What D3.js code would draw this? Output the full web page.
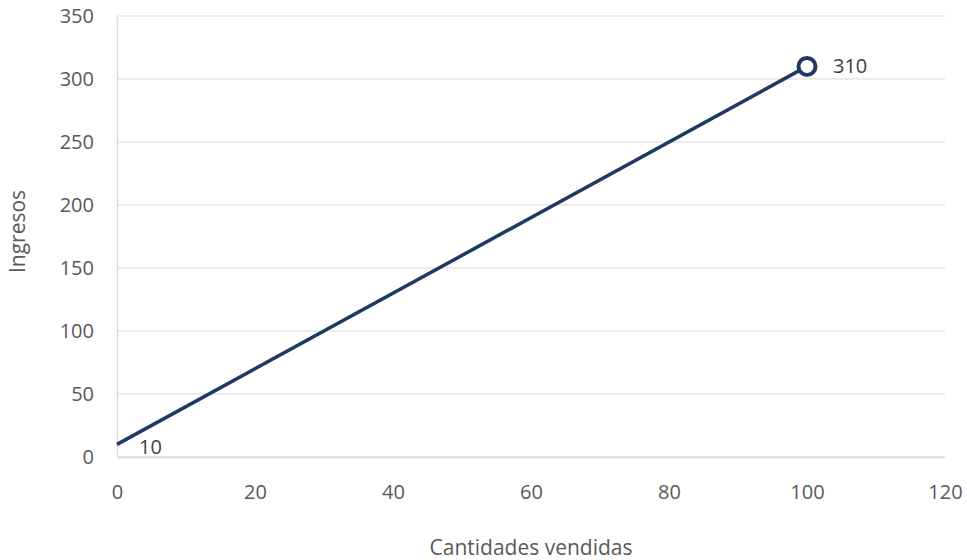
<!DOCTYPE html>
<html lang="es">
  <head>
    <meta charset="UTF-8" />
    <title>Ingresos</title>
    <script src="https://cdn.jsdelivr.net/npm/d3@7/dist/d3.min.js"></script>
    <style>
      body { margin: 0; background: #fff; }
      text { font-family: "Open Sans", "Liberation Sans", sans-serif; fill: #595959; }
    </style>
  </head>
  <body>
    <div id="wrapper"></div>
    <script>
      const cantidades = [0, 100];
      const ingresos = [10, 310];
      const xTicks = [0, 20, 40, 60, 80, 100, 120];
      const yTicks = [0, 50, 100, 150, 200, 250, 300, 350];

      const dimensions = {
        width: 967,
        height: 560,
        margin: { top: 16, right: 22, bottom: 103, left: 117 },
      };
      dimensions.boundedWidth = dimensions.width - dimensions.margin.left - dimensions.margin.right;
      dimensions.boundedHeight = dimensions.height - dimensions.margin.top - dimensions.margin.bottom;

      const data = cantidades.map((c, i) => ({ x: c, y: ingresos[i] }));

      const svg = d3.select("#wrapper").append("svg")
        .attr("width", dimensions.width)
        .attr("height", dimensions.height);

      const bounds = svg.append("g")
        .attr("transform", `translate(${dimensions.margin.left},${dimensions.margin.top})`);

      const xScale = d3.scaleLinear().domain([0, 120]).range([0, dimensions.boundedWidth]);
      const yScale = d3.scaleLinear().domain([0, 350]).range([dimensions.boundedHeight, 0]);

      // gridlines
      bounds.append("g").selectAll("line").data(yTicks).join("line")
        .attr("x1", 0).attr("x2", dimensions.boundedWidth)
        .attr("y1", d => yScale(d)).attr("y2", d => yScale(d))
        .attr("stroke", "#d9d9d9").attr("stroke-width", 1);

      // axes
      const yAxis = bounds.append("g")
        .call(d3.axisLeft(yScale).tickValues(yTicks).tickSize(0).tickPadding(23));
      yAxis.select(".domain").attr("stroke", "#d9d9d9").attr("stroke-width", 1.5);
      yAxis.selectAll("text").style("font-size", "20px");

      const xAxis = bounds.append("g")
        .attr("transform", `translate(0,${dimensions.boundedHeight})`)
        .call(d3.axisBottom(xScale).tickValues(xTicks).tickSize(0).tickPadding(28));
      xAxis.select(".domain").attr("stroke", "#d9d9d9").attr("stroke-width", 1.5);
      xAxis.selectAll("text").style("font-size", "20px");

      // line
      const lineGenerator = d3.line().x(d => xScale(d.x)).y(d => yScale(d.y));
      bounds.append("path")
        .attr("d", lineGenerator(data))
        .attr("fill", "none")
        .attr("stroke", "#1f3864")
        .attr("stroke-width", 3.5);

      const last = data[data.length - 1];
      const first = data[0];
      bounds.append("circle")
        .attr("cx", xScale(last.x)).attr("cy", yScale(last.y))
        .attr("r", 8.5)
        .attr("fill", "#fff")
        .attr("stroke", "#1f3864")
        .attr("stroke-width", 4);

      bounds.append("text")
        .attr("x", xScale(last.x) + 26).attr("y", yScale(last.y))
        .attr("dy", "0.35em")
        .style("font-size", "20px")
        .style("fill", "#404040")
        .text(last.y);

      bounds.append("text")
        .attr("x", xScale(first.x) + 22).attr("y", yScale(first.y))
        .attr("dy", "0.5em")
        .style("font-size", "20px")
        .style("fill", "#404040")
        .text(first.y);

      // axis titles
      svg.append("text")
        .attr("transform", `translate(25,${dimensions.margin.top + dimensions.boundedHeight / 2 - 5}) rotate(-90)`)
        .attr("text-anchor", "middle")
        .style("font-size", "21px")
        .text("Ingresos");

      svg.append("text")
        .attr("x", dimensions.margin.left + dimensions.boundedWidth / 2)
        .attr("y", 555)
        .attr("text-anchor", "middle")
        .style("font-size", "21px")
        .text("Cantidades vendidas");
    </script>
  </body>
</html>
